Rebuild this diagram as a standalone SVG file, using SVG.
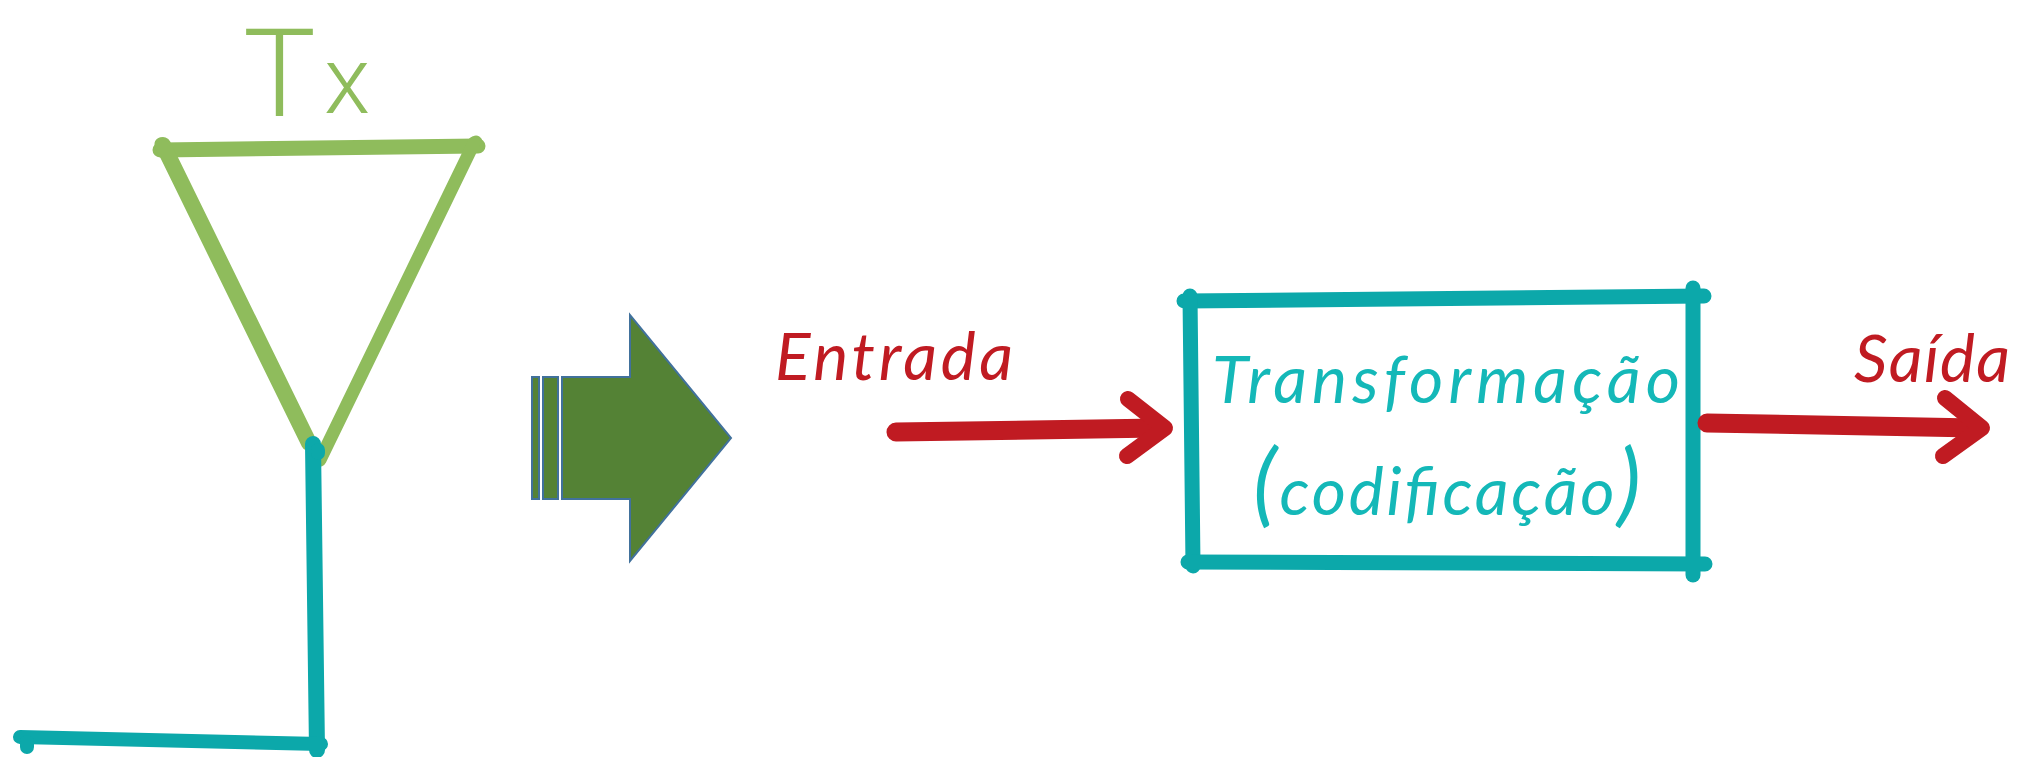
<svg xmlns="http://www.w3.org/2000/svg" width="2033" height="757" viewBox="0 0 2033 757">
<style>
.t{font-family:"Lato","Liberation Sans",sans-serif;font-style:italic;font-weight:400}
.l{fill:none;stroke-linecap:round;stroke-linejoin:round}
.g{stroke:#8fbc5c}
.c{stroke:#0ca8aa}
.r{stroke:#c01b22}
.sa{fill:#548235;stroke:#41719c;stroke-width:2}
</style>
<rect width="2033" height="757" fill="#fff"/>
<g id="antenna">
<path class="l g" stroke-width="15" d="M160 150L478 146"/>
<path class="l g" stroke-width="13" d="M161 144L163 150M476 142L477 146"/>
<path class="l g" stroke-width="16" d="M163 145L309 443"/>
<path class="l g" stroke-width="13" d="M474 143L320 460"/>
<path class="l c" stroke-width="16" d="M313 444L317 750"/>
<path class="l c" stroke-width="14" d="M20 737L321 744"/>
<path class="l c" stroke-width="14" d="M27 742L27 747M318 450L318 453"/>
</g>
<g id="tx-label"><text font-family="Roboto, 'Liberation Sans', sans-serif" font-weight="300" fill="#8fbc5c"><tspan x="243" y="116" font-size="122">T</tspan><tspan x="324" y="113" font-size="95">x</tspan></text></g>
<g id="striped-arrow">
<path class="sa" d="M532 377H539V499H532ZM543 377H558V499H543ZM562 377H630V315L731 438L630 561V499H562Z"/>
</g>
<g id="transform-box">
<path class="l c" stroke-width="15" d="M1184 301L1704 296"/>
<path class="l c" stroke-width="15" d="M1190 296L1193 566"/>
<path class="l c" stroke-width="15" d="M1188 562L1705 564"/>
<path class="l c" stroke-width="15" d="M1693 288L1693 575"/>
<text class="t" x="1212" y="403" font-size="66" fill="#14b8b8" textLength="468">Transformação</text>
<text class="t" x="1253" y="515" font-size="66" fill="#14b8b8" textLength="388"><tspan font-size="92">(</tspan>codificação<tspan font-size="92">)</tspan></text>
</g>
<g id="entrada-label"><text class="t" x="775" y="380" font-size="66" fill="#c01b22" textLength="238">Entrada</text></g>
<g id="saida-label"><text class="t" x="1854" y="382" font-size="66" fill="#c01b22" textLength="156">Saída</text></g>
<g id="connectors">
<path class="l r" stroke-width="19" d="M896 432L1158 428"/>
<path class="l r" stroke-width="16" d="M1128 399L1165 428L1127 456"/>
<path class="l r" stroke-width="19" d="M1707 423L1975 428"/>
<path class="l r" stroke-width="16" d="M1945 398L1982 428L1943 456"/>
</g>
</svg>
